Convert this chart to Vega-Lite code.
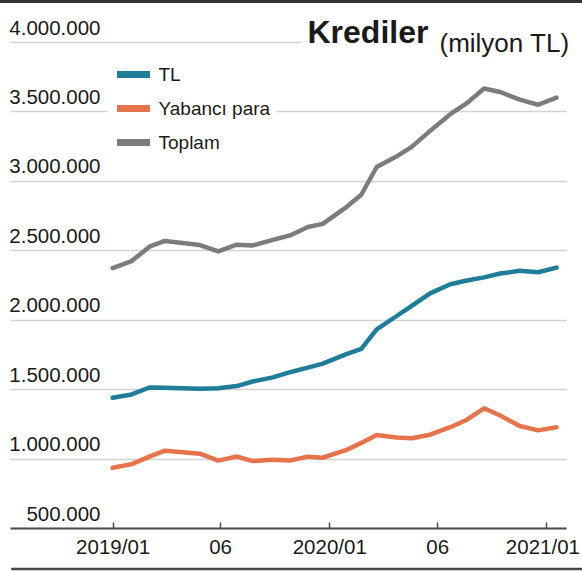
{
  "$schema": "https://vega.github.io/schema/vega-lite/v6.json",
  "width": 556,
  "height": 486,
  "autosize": {"type": "none"},
  "padding": {"left": 10, "top": 42, "right": 16, "bottom": 44},
  "background": "white",
  "config": {
    "font": "Liberation Sans",
    "view": {"stroke": null},
    "locale": {"number": {"decimal": ",", "thousands": ".", "grouping": [3], "currency": ["", " TL"]}}
  },
  "layer": [
    {
      "data": {"values": [
        {"date": "2019-01-01", "series": "Toplam", "value": 2372000},
        {"date": "2019-02-02", "series": "Toplam", "value": 2422000},
        {"date": "2019-03-04", "series": "Toplam", "value": 2526000},
        {"date": "2019-03-30", "series": "Toplam", "value": 2567000},
        {"date": "2019-04-29", "series": "Toplam", "value": 2553000},
        {"date": "2019-05-28", "series": "Toplam", "value": 2538000},
        {"date": "2019-06-28", "series": "Toplam", "value": 2492000},
        {"date": "2019-07-29", "series": "Toplam", "value": 2540000},
        {"date": "2019-08-25", "series": "Toplam", "value": 2535000},
        {"date": "2019-09-28", "series": "Toplam", "value": 2575000},
        {"date": "2019-10-27", "series": "Toplam", "value": 2607000},
        {"date": "2019-11-26", "series": "Toplam", "value": 2668000},
        {"date": "2019-12-21", "series": "Toplam", "value": 2690000},
        {"date": "2020-01-30", "series": "Toplam", "value": 2811000},
        {"date": "2020-02-24", "series": "Toplam", "value": 2900000},
        {"date": "2020-03-21", "series": "Toplam", "value": 3100000},
        {"date": "2020-04-23", "series": "Toplam", "value": 3175000},
        {"date": "2020-05-19", "series": "Toplam", "value": 3245000},
        {"date": "2020-06-19", "series": "Toplam", "value": 3360000},
        {"date": "2020-07-23", "series": "Toplam", "value": 3480000},
        {"date": "2020-08-20", "series": "Toplam", "value": 3560000},
        {"date": "2020-09-18", "series": "Toplam", "value": 3665000},
        {"date": "2020-10-15", "series": "Toplam", "value": 3640000},
        {"date": "2020-11-17", "series": "Toplam", "value": 3585000},
        {"date": "2020-12-18", "series": "Toplam", "value": 3548000},
        {"date": "2021-01-18", "series": "Toplam", "value": 3600000},
        {"date": "2019-01-01", "series": "TL", "value": 1438000},
        {"date": "2019-02-02", "series": "TL", "value": 1462000},
        {"date": "2019-03-04", "series": "TL", "value": 1512000},
        {"date": "2019-03-30", "series": "TL", "value": 1510000},
        {"date": "2019-04-29", "series": "TL", "value": 1507000},
        {"date": "2019-05-28", "series": "TL", "value": 1503000},
        {"date": "2019-06-28", "series": "TL", "value": 1507000},
        {"date": "2019-07-29", "series": "TL", "value": 1522000},
        {"date": "2019-08-25", "series": "TL", "value": 1555000},
        {"date": "2019-09-28", "series": "TL", "value": 1585000},
        {"date": "2019-10-27", "series": "TL", "value": 1622000},
        {"date": "2019-11-26", "series": "TL", "value": 1655000},
        {"date": "2019-12-21", "series": "TL", "value": 1684000},
        {"date": "2020-01-30", "series": "TL", "value": 1752000},
        {"date": "2020-02-24", "series": "TL", "value": 1790000},
        {"date": "2020-03-21", "series": "TL", "value": 1930000},
        {"date": "2020-04-23", "series": "TL", "value": 2025000},
        {"date": "2020-05-19", "series": "TL", "value": 2100000},
        {"date": "2020-06-19", "series": "TL", "value": 2190000},
        {"date": "2020-07-23", "series": "TL", "value": 2255000},
        {"date": "2020-08-20", "series": "TL", "value": 2282000},
        {"date": "2020-09-18", "series": "TL", "value": 2305000},
        {"date": "2020-10-15", "series": "TL", "value": 2333000},
        {"date": "2020-11-17", "series": "TL", "value": 2352000},
        {"date": "2020-12-18", "series": "TL", "value": 2342000},
        {"date": "2021-01-18", "series": "TL", "value": 2375000},
        {"date": "2019-01-01", "series": "Yabancı para", "value": 934000},
        {"date": "2019-02-02", "series": "Yabancı para", "value": 960000},
        {"date": "2019-03-04", "series": "Yabancı para", "value": 1014000},
        {"date": "2019-03-30", "series": "Yabancı para", "value": 1057000},
        {"date": "2019-04-29", "series": "Yabancı para", "value": 1046000},
        {"date": "2019-05-28", "series": "Yabancı para", "value": 1035000},
        {"date": "2019-06-28", "series": "Yabancı para", "value": 985000},
        {"date": "2019-07-29", "series": "Yabancı para", "value": 1015000},
        {"date": "2019-08-25", "series": "Yabancı para", "value": 982000},
        {"date": "2019-09-28", "series": "Yabancı para", "value": 991000},
        {"date": "2019-10-27", "series": "Yabancı para", "value": 986000},
        {"date": "2019-11-26", "series": "Yabancı para", "value": 1014000},
        {"date": "2019-12-21", "series": "Yabancı para", "value": 1006000},
        {"date": "2020-01-30", "series": "Yabancı para", "value": 1062000},
        {"date": "2020-02-24", "series": "Yabancı para", "value": 1113000},
        {"date": "2020-03-21", "series": "Yabancı para", "value": 1170000},
        {"date": "2020-04-23", "series": "Yabancı para", "value": 1152000},
        {"date": "2020-05-19", "series": "Yabancı para", "value": 1146000},
        {"date": "2020-06-19", "series": "Yabancı para", "value": 1172000},
        {"date": "2020-07-23", "series": "Yabancı para", "value": 1226000},
        {"date": "2020-08-20", "series": "Yabancı para", "value": 1280000},
        {"date": "2020-09-18", "series": "Yabancı para", "value": 1362000},
        {"date": "2020-10-15", "series": "Yabancı para", "value": 1310000},
        {"date": "2020-11-17", "series": "Yabancı para", "value": 1235000},
        {"date": "2020-12-18", "series": "Yabancı para", "value": 1203000},
        {"date": "2021-01-18", "series": "Yabancı para", "value": 1226000}
      ]},
      "mark": {"type": "line", "strokeWidth": 4.5, "strokeJoin": "round", "strokeCap": "round"},
      "encoding": {
        "x": {
          "field": "date",
          "type": "temporal",
          "scale": {"type": "utc", "domain": [{"year": 2018, "month": 7, "date": 12, "utc": true}, {"year": 2021, "month": 2, "date": 3, "utc": true}]},
          "axis": {
            "values": [
              {"year": 2019, "month": 1, "date": 1, "utc": true},
              {"year": 2019, "month": 7, "date": 1, "utc": true},
              {"year": 2020, "month": 1, "date": 1, "utc": true},
              {"year": 2020, "month": 7, "date": 1, "utc": true},
              {"year": 2021, "month": 1, "date": 1, "utc": true}
            ],
            "labelExpr": "utcmonth(datum.value) === 0 ? utcFormat(datum.value, '%Y/%m') : '06'",
            "grid": false,
            "domainColor": "#4d4d4d",
            "domainWidth": 2,
            "tickColor": "#4d4d4d",
            "tickWidth": 1.5,
            "tickSize": -6,
            "labelPadding": 31,
            "labelBaseline": "alphabetic",
            "labelAlign": "center",
            "labelFontSize": 20.5,
            "labelColor": "#1a1a1a",
            "labelFlush": false,
            "labelOffset": {"condition": {"test": "utcyear(datum.value) === 2021", "value": -4}, "value": 0},
            "labelOverlap": false,
            "title": "(milyon TL)",
            "titleX": 429,
            "titleY": -477,
            "titleAlign": "left",
            "titleAngle": 0,
            "titleBaseline": "alphabetic",
            "titleFontSize": 26,
            "titleFontWeight": "normal",
            "titleColor": "#1a1a1a"
          }
        },
        "y": {
          "field": "value",
          "type": "quantitative",
          "scale": {"domain": [500000, 4000000], "nice": false, "zero": false},
          "axis": {
            "values": [500000, 1000000, 1500000, 2000000, 2500000, 3000000, 3500000, 4000000],
            "labelExpr": "format(datum.value, ',')",
            "grid": true,
            "gridColor": "#d2d2d2",
            "gridWidth": 1.5,
            "gridDash": {"condition": {"test": "datum.value === 4000000", "value": [291, 600]}, "value": []},
            "domain": false,
            "ticks": false,
            "tickSize": 0,
            "labelAlign": "right",
            "labelBaseline": "alphabetic",
            "labelPadding": -90,
            "labelOffset": -8,
            "labelFontSize": 20.5,
            "labelColor": "#1a1a1a",
            "labelOverlap": false,
            "labelFlush": false,
            "title": "Krediler",
            "titleX": 297,
            "titleY": 0,
            "titleAngle": 0,
            "titleAlign": "left",
            "titleBaseline": "alphabetic",
            "titleFontSize": 32,
            "titleFontWeight": "bold",
            "titleColor": "#1a1a1a"
          }
        },
        "color": {
          "field": "series",
          "type": "nominal",
          "scale": {"domain": ["TL", "Yabancı para", "Toplam"], "range": ["#1f7d9a", "#e6744b", "#7c7c7c"]},
          "legend": {
            "orient": "none",
            "legendX": 98,
            "legendY": 7,
            "title": null,
            "symbolType": "stroke",
            "symbolSize": 1089,
            "symbolStrokeWidth": 7,
            "labelFontSize": 19,
            "labelOffset": 5,
            "labelColor": "#1a1a1a",
            "rowPadding": -4,
            "padding": 5.5,
            "fillColor": "white"
          }
        }
      }
    },
    {
      "data": {"values": [{}]},
      "mark": {"type": "rule", "strokeWidth": 3, "color": "#333333"},
      "encoding": {
        "x": {"datum": {"year": 2018, "month": 6, "date": 25, "utc": true}, "type": "temporal"},
        "x2": {"datum": {"year": 2021, "month": 3, "date": 4, "utc": true}},
        "y": {"datum": 4291000, "type": "quantitative"}
      }
    },
    {
      "data": {"values": [{}]},
      "mark": {"type": "rule", "strokeWidth": 2.5, "color": "#444444"},
      "encoding": {
        "x": {"datum": {"year": 2018, "month": 7, "date": 14, "utc": true}, "type": "temporal"},
        "x2": {"datum": {"year": 2021, "month": 3, "date": 4, "utc": true}},
        "y": {"datum": 205000, "type": "quantitative"}
      }
    }
  ]
}
